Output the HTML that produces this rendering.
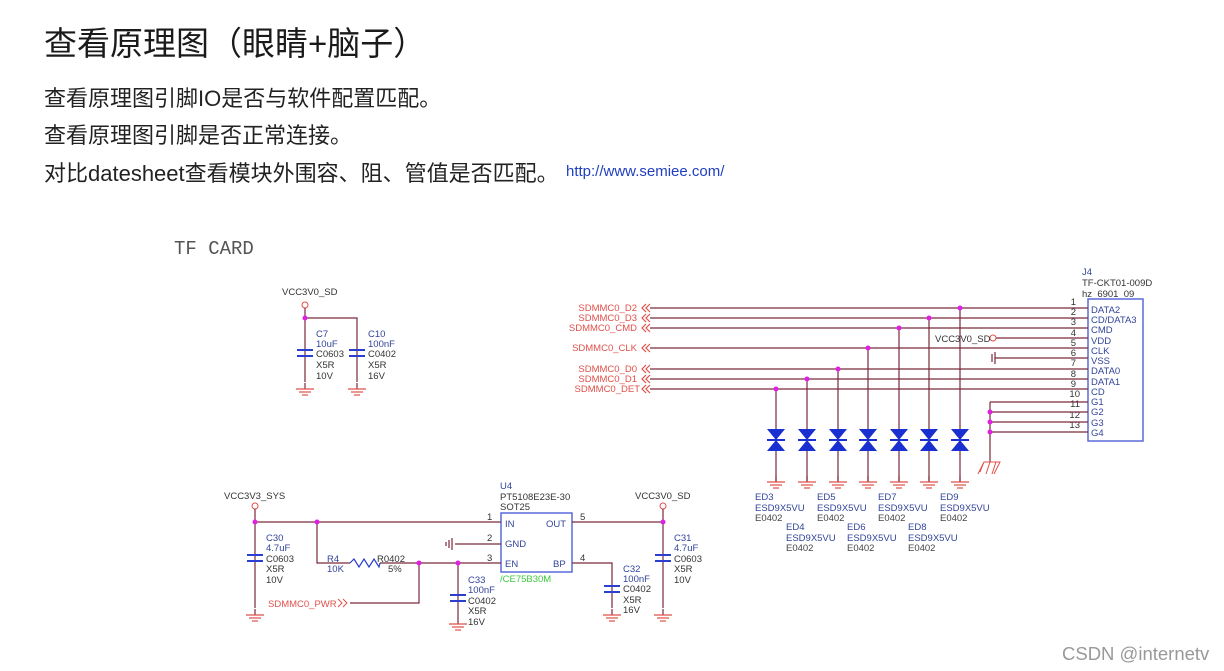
<!DOCTYPE html>
<html><head><meta charset="utf-8"><style>
body{margin:0;width:1224px;height:671px;background:#fff;overflow:hidden;position:relative;font-family:"Liberation Sans","Noto Sans CJK SC",sans-serif}
.t{position:absolute;color:#222;white-space:nowrap}
svg{position:absolute;left:0;top:0}
svg text{font-family:"Liberation Sans",sans-serif}
</style></head><body>
<div class="t" style="left:44px;top:17px;font-size:33px;color:#1a1a1a">查看原理图（眼睛+脑子）</div>
<div class="t" style="left:44px;top:81px;font-size:22px">查看原理图引脚IO是否与软件配置匹配。</div>
<div class="t" style="left:44px;top:118px;font-size:22px">查看原理图引脚是否正常连接。</div>
<div class="t" style="left:44px;top:156px;font-size:22px">对比datesheet查看模块外围容、阻、管值是否匹配。</div>
<div class="t" style="left:566px;top:163px;font-size:15px;color:#1f3fbf">http://www.semiee.com/</div>
<div class="t" style="left:1062px;top:643px;font-size:18.5px;color:#999">CSDN @internetv</div>
<svg width="1224" height="671" viewBox="0 0 1224 671">
<defs>
<g id="gnd" stroke="#e0504a" stroke-width="1.2" fill="none"><line x1="0" y1="0" x2="0" y2="-6" stroke="#7a2a3a"/><line x1="-9" y1="0" x2="9" y2="0"/><line x1="-6" y1="3" x2="6" y2="3"/><line x1="-3" y1="6" x2="3" y2="6"/></g>
<g id="cap" stroke="#2a3fcf" stroke-width="2"><line x1="-8" y1="-3" x2="8" y2="-3"/><line x1="-8" y1="3" x2="8" y2="3"/></g>
<g id="esd"><polygon points="-9,-11 9,-11 0,0" fill="#1a2fd0"/><polygon points="-9,11 9,11 0,0" fill="#1a2fd0"/><line x1="-9" y1="0" x2="9" y2="0" stroke="#1a2fd0" stroke-width="2"/></g>
<g id="chev" stroke="#e0504a" stroke-width="1.2" fill="none"><polyline points="6,-4 2,0 6,4"/><polyline points="10,-4 6,0 10,4"/></g>
</defs>
<text x="174" y="254" style="font-family:'Liberation Mono',monospace" font-size="19" fill="#555">TF CARD</text>

<g font-size="9.5" fill="#333">
<text x="282" y="295">VCC3V0_SD</text>
<circle cx="305" cy="305" r="3" fill="none" stroke="#e0504a"/>
<g stroke="#7a2a3a" stroke-width="1.2" fill="none"><path d="M305 308V382M305 318H357V382"/></g>
<circle cx="305" cy="318" r="2.5" fill="#e020e0"/>
<use href="#cap" x="305" y="353"/><use href="#cap" x="357" y="353"/>
<use href="#gnd" x="305" y="389"/><use href="#gnd" x="357" y="389"/>
<g fill="#333"><text x="316" y="337" fill="#33449a">C7</text><text x="316" y="347" fill="#33449a">10uF</text><text x="316" y="357">C0603</text><text x="316" y="368">X5R</text><text x="316" y="379">10V</text>
<text x="368" y="337" fill="#33449a">C10</text><text x="368" y="347" fill="#33449a">100nF</text><text x="368" y="357">C0402</text><text x="368" y="368">X5R</text><text x="368" y="379">16V</text></g>
</g>

<g font-size="9.5">
<text x="1082" y="275" fill="#33449a">J4</text><text x="1082" y="286" fill="#333">TF-CKT01-009D</text><text x="1082" y="297" fill="#333">hz_6901_09</text>
<rect x="1088" y="299" width="55" height="142" fill="none" stroke="#5a6ad8" stroke-width="1.5"/>
<g fill="#33449a">
<text x="1091" y="313">DATA2</text><text x="1091" y="323">CD/DATA3</text><text x="1091" y="333">CMD</text><text x="1091" y="344">VDD</text><text x="1091" y="354">CLK</text><text x="1091" y="364">VSS</text><text x="1091" y="374">DATA0</text><text x="1091" y="385">DATA1</text><text x="1091" y="395">CD</text><text x="1091" y="405">G1</text><text x="1091" y="415">G2</text><text x="1091" y="426">G3</text><text x="1091" y="436">G4</text></g>
<g fill="#333" text-anchor="end">
<text x="1076" y="305">1</text><text x="1076" y="315">2</text><text x="1076" y="325">3</text><text x="1076" y="336">4</text><text x="1076" y="346">5</text><text x="1076" y="356">6</text><text x="1076" y="366">7</text><text x="1076" y="377">8</text><text x="1076" y="387">9</text><text x="1080" y="397">10</text><text x="1080" y="407">11</text><text x="1080" y="418">12</text><text x="1080" y="428">13</text></g>
<g stroke="#7a2a3a" stroke-width="1.2" fill="none">
<path d="M650 308H1088M650 318H1088M650 328H1088M995 338H1088M650 348H1088M995 358H1088M650 369H1088M650 379H1088M650 389H1088"/>
<path d="M990 402H1088M990 412H1088M990 422H1088M990 432H1088M990 402V462"/>
<path d="M995 352V364M992 354V362"/>
<path d="M776 389V482M807 379V482M838 369V482M868 348V482M899 328V482M929 318V482M960 308V482"/>
</g>
<circle cx="993" cy="338" r="3" fill="#fff" stroke="#e0504a"/>
<text x="935" y="342" fill="#333">VCC3V0_SD</text>
<g fill="#e020e0"><circle cx="776" cy="389" r="2.5"/><circle cx="807" cy="379" r="2.5"/><circle cx="838" cy="369" r="2.5"/><circle cx="868" cy="348" r="2.5"/><circle cx="899" cy="328" r="2.5"/><circle cx="929" cy="318" r="2.5"/><circle cx="960" cy="308" r="2.5"/><circle cx="990" cy="412" r="2.5"/><circle cx="990" cy="422" r="2.5"/><circle cx="990" cy="432" r="2.5"/></g>
<path d="M978 474L984 462H1000L994 474M984 462L980 472M990 462L986 474M996 462L992 474" stroke="#e0504a" fill="none"/>
<g fill="#e0504a" text-anchor="end" font-size="9.5">
<text x="637" y="311">SDMMC0_D2</text><text x="637" y="321">SDMMC0_D3</text><text x="637" y="331">SDMMC0_CMD</text><text x="637" y="351">SDMMC0_CLK</text><text x="637" y="372">SDMMC0_D0</text><text x="637" y="382">SDMMC0_D1</text><text x="640" y="392">SDMMC0_DET</text></g>
<use href="#chev" x="640" y="308"/><use href="#chev" x="640" y="318"/><use href="#chev" x="640" y="328"/><use href="#chev" x="640" y="348"/><use href="#chev" x="640" y="369"/><use href="#chev" x="640" y="379"/><use href="#chev" x="640" y="389"/>
<use href="#esd" x="776" y="440"/><use href="#esd" x="807" y="440"/><use href="#esd" x="838" y="440"/><use href="#esd" x="868" y="440"/><use href="#esd" x="899" y="440"/><use href="#esd" x="929" y="440"/><use href="#esd" x="960" y="440"/>
<use href="#gnd" x="776" y="482"/><use href="#gnd" x="807" y="482"/><use href="#gnd" x="838" y="482"/><use href="#gnd" x="868" y="482"/><use href="#gnd" x="899" y="482"/><use href="#gnd" x="929" y="482"/><use href="#gnd" x="960" y="482"/>
<g fill="#444"><text x="755" y="500" fill="#33449a">ED3</text><text x="755" y="511" fill="#33449a">ESD9X5VU</text><text x="755" y="521">E0402</text>
<text x="817" y="500" fill="#33449a">ED5</text><text x="817" y="511" fill="#33449a">ESD9X5VU</text><text x="817" y="521">E0402</text>
<text x="878" y="500" fill="#33449a">ED7</text><text x="878" y="511" fill="#33449a">ESD9X5VU</text><text x="878" y="521">E0402</text>
<text x="940" y="500" fill="#33449a">ED9</text><text x="940" y="511" fill="#33449a">ESD9X5VU</text><text x="940" y="521">E0402</text>
<text x="786" y="530" fill="#33449a">ED4</text><text x="786" y="541" fill="#33449a">ESD9X5VU</text><text x="786" y="551">E0402</text>
<text x="847" y="530" fill="#33449a">ED6</text><text x="847" y="541" fill="#33449a">ESD9X5VU</text><text x="847" y="551">E0402</text>
<text x="908" y="530" fill="#33449a">ED8</text><text x="908" y="541" fill="#33449a">ESD9X5VU</text><text x="908" y="551">E0402</text></g>
</g>

<g font-size="9.5" fill="#333">
<text x="224" y="499">VCC3V3_SYS</text><text x="635" y="499">VCC3V0_SD</text>
<circle cx="255" cy="506" r="3" fill="none" stroke="#e0504a"/><circle cx="663" cy="506" r="3" fill="none" stroke="#e0504a"/>
<text x="500" y="489" fill="#33449a">U4</text><text x="500" y="500">PT5108E23E-30</text><text x="500" y="510">SOT25</text>
<rect x="501" y="513" width="71" height="59" fill="none" stroke="#5a6ad8" stroke-width="1.5"/>
<g fill="#33449a"><text x="505" y="527">IN</text><text x="505" y="547">GND</text><text x="505" y="567">EN</text><text x="546" y="527">OUT</text><text x="553" y="567">BP</text></g>
<text x="487" y="520">1</text><text x="487" y="541">2</text><text x="487" y="561">3</text><text x="580" y="520">5</text><text x="580" y="561">4</text>
<text x="500" y="582" fill="#3ec83e">/CE75B30M</text>
<g stroke="#7a2a3a" stroke-width="1.2" fill="none">
<path d="M255 509V608M255 522H501M317 522V563H350M380 563H501M419 563V603H350M458 563V618"/>
<path d="M572 522H663M663 509V608M572 563H612V608M455 544H501M452 538V550M449 540V548M446 542V546"/>
<path d="M350 563l4 -4l5 8l5 -8l5 8l5 -8l5 8l1 -4" stroke="#2a3fcf"/>
</g>
<g fill="#e020e0"><circle cx="255" cy="522" r="2.5"/><circle cx="317" cy="522" r="2.5"/><circle cx="419" cy="563" r="2.5"/><circle cx="458" cy="563" r="2.5"/><circle cx="663" cy="522" r="2.5"/></g>
<use href="#cap" x="255" y="558"/><use href="#cap" x="663" y="558"/><use href="#cap" x="612" y="589"/><use href="#cap" x="458" y="598"/>
<use href="#gnd" x="255" y="615"/><use href="#gnd" x="663" y="615"/><use href="#gnd" x="612" y="615"/><use href="#gnd" x="458" y="624"/>
<text x="266" y="541" fill="#33449a">C30</text><text x="266" y="551" fill="#33449a">4.7uF</text><text x="266" y="562">C0603</text><text x="266" y="572">X5R</text><text x="266" y="583">10V</text>
<text x="674" y="541" fill="#33449a">C31</text><text x="674" y="551" fill="#33449a">4.7uF</text><text x="674" y="562">C0603</text><text x="674" y="572">X5R</text><text x="674" y="583">10V</text>
<text x="623" y="572" fill="#33449a">C32</text><text x="623" y="582" fill="#33449a">100nF</text><text x="623" y="592">C0402</text><text x="623" y="603">X5R</text><text x="623" y="613">16V</text>
<text x="468" y="583" fill="#33449a">C33</text><text x="468" y="593" fill="#33449a">100nF</text><text x="468" y="604">C0402</text><text x="468" y="614">X5R</text><text x="468" y="625">16V</text>
<text x="327" y="562" fill="#33449a">R4</text><text x="327" y="572" fill="#33449a">10K</text><text x="377" y="562">R0402</text><text x="388" y="572">5%</text>
<text x="268" y="607" fill="#e0504a">SDMMC0_PWR</text>
<g stroke="#e0504a" fill="none"><polyline points="338,599 342,603 338,607"/><polyline points="343,599 347,603 343,607"/></g>
</g>
</svg>
</body></html>
